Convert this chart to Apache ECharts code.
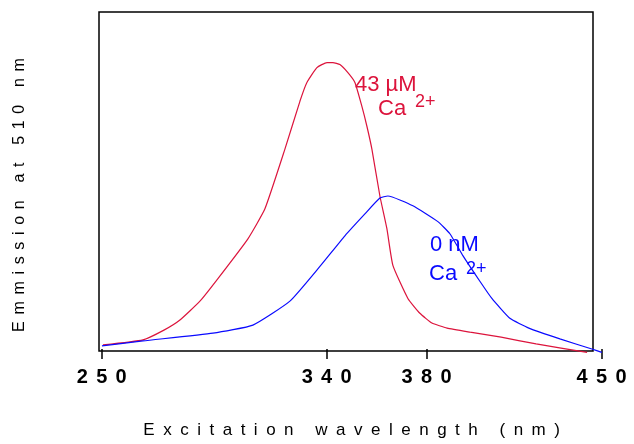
<!DOCTYPE html>
<html>
<head>
<meta charset="utf-8">
<script src="https://cdn.jsdelivr.net/npm/echarts@6/dist/echarts.min.js"></script>
<style>
  html, body { margin: 0; padding: 0; background: #fff; }
  #chart { width: 634px; height: 444px; }
</style>
</head>
<body>
<div id="chart"></div>
<script>
// Excitation spectra, relative emission at 510 nm (arbitrary units, 100 = top of frame)
const wavelengthCa43 = [250.5, 266.5, 274.9, 281.3, 289.3, 296.5, 308.5, 315.3, 323.3, 329.3, 332.1, 336.1, 340.1, 342.5, 345.3, 348.5, 351.3, 354.1, 356.1, 358.1, 361.3, 364.1, 366.5, 372.5, 377.3, 382.1, 388.2, 397.4, 409.8, 423.8, 444.2];
const emissionCa43   = [1.2, 2.7, 5.6, 8.6, 14.2, 20.9, 32.7, 41.6, 59.3, 73.5, 79.1, 83.5, 85.0, 85.0, 84.4, 82.0, 79.1, 72.0, 66.1, 59.3, 45.4, 35.7, 24.8, 15.0, 10.6, 7.7, 6.2, 5.0, 3.5, 1.5, -1.0];

const wavelengthCa0 = [250.1, 266.5, 294.5, 310.5, 325.3, 337.3, 347.3, 355.3, 361.3, 364.5, 374.5, 384.5, 389.3, 394.5, 401.3, 406.1, 413.3, 420.9, 433.3, 446.1, 450.1];
const emissionCa0   = [0.9, 2.4, 4.7, 7.1, 14.2, 24.5, 33.6, 40.1, 44.8, 45.4, 42.5, 37.8, 34.2, 27.7, 20.1, 15.0, 9.1, 6.2, 3.0, 0.0, -1.0];

const xTickValues = [250, 340, 380, 450];

const xTitle = 'Excitation wavelength (nm)';
const yTitle = 'Emmission at 510 nm';

const RED = '#dc143c';
const BLUE = '#0a0aff';
const FONT = "'Liberation Sans', Arial, Helvetica, sans-serif";

// widely tracked lettering: a thin run of spaces between characters
function spaced(s, sep) { return s.split('').join(sep); }
const GAP_EN = '\u2002';            // en space
const GAP_MID = '\u2005\u2006';     // four-per-em + six-per-em

function pairs(xs, ys) { return xs.map((x, i) => [x, ys[i]]); }

const chart = echarts.init(document.getElementById('chart'), null, { renderer: 'canvas' });

chart.setOption({
  backgroundColor: '#ffffff',
  animation: false,
  grid: { left: 101.7, right: 32.4, top: 12, bottom: 93, containLabel: false },
  xAxis: {
    type: 'value',
    min: 250,
    max: 450,
    offset: 6,
    axisLine: { show: false },
    splitLine: { show: false },
    axisTick: {
      show: true,
      customValues: xTickValues,
      length: 10,
      lineStyle: { color: '#000', width: 1.5 }
    },
    axisLabel: {
      show: true,
      customValues: xTickValues,
      margin: 12,
      color: '#000',
      fontFamily: FONT,
      fontSize: 20,
      fontWeight: 'bold',
      formatter: v => spaced(String(v), GAP_MID)
    },
    name: spaced(xTitle, GAP_EN),
    nameLocation: 'middle',
    nameGap: 67,
    nameTextStyle: { color: '#000', fontFamily: FONT, fontSize: 17 }
  },
  yAxis: {
    type: 'value',
    min: 0,
    max: 100,
    axisLine: { show: false },
    axisTick: { show: false },
    axisLabel: { show: false },
    splitLine: { show: false }
  },
  graphic: [
    {
      type: 'rect',
      shape: { x: 99, y: 12, width: 494, height: 339 },
      style: { fill: 'none', stroke: '#000', lineWidth: 1.5 },
      z: 0
    },
    {
      type: 'text',
      x: 20, y: 195,
      rotation: Math.PI / 2,
      style: {
        text: spaced(yTitle, GAP_MID),
        fill: '#000',
        font: '16px ' + FONT,
        align: 'center',
        verticalAlign: 'middle'
      }
    },
    { type: 'text', x: 355, y: 85, style: { text: '43 µM', fill: RED, font: '22px ' + FONT, align: 'left', verticalAlign: 'middle' } },
    { type: 'text', x: 378, y: 109, style: { text: 'Ca', fill: RED, font: '22px ' + FONT, align: 'left', verticalAlign: 'middle' } },
    { type: 'text', x: 415, y: 102, style: { text: '2+', fill: RED, font: '18px ' + FONT, align: 'left', verticalAlign: 'middle' } },
    { type: 'text', x: 430, y: 245, style: { text: '0 nM', fill: BLUE, font: '22px ' + FONT, align: 'left', verticalAlign: 'middle' } },
    { type: 'text', x: 429, y: 274, style: { text: 'Ca', fill: BLUE, font: '22px ' + FONT, align: 'left', verticalAlign: 'middle' } },
    { type: 'text', x: 466, y: 269, style: { text: '2+', fill: BLUE, font: '18px ' + FONT, align: 'left', verticalAlign: 'middle' } }
  ],
  series: [
    {
      name: '43 µM Ca2+',
      type: 'line',
      data: pairs(wavelengthCa43, emissionCa43),
      showSymbol: false,
      clip: false,
      smooth: 0.15,
      lineStyle: { color: RED, width: 1.2 },
      z: 3
    },
    {
      name: '0 nM Ca2+',
      type: 'line',
      data: pairs(wavelengthCa0, emissionCa0),
      showSymbol: false,
      clip: false,
      smooth: 0.15,
      lineStyle: { color: BLUE, width: 1.2 },
      z: 4
    }
  ]
});
</script>
</body>
</html>
